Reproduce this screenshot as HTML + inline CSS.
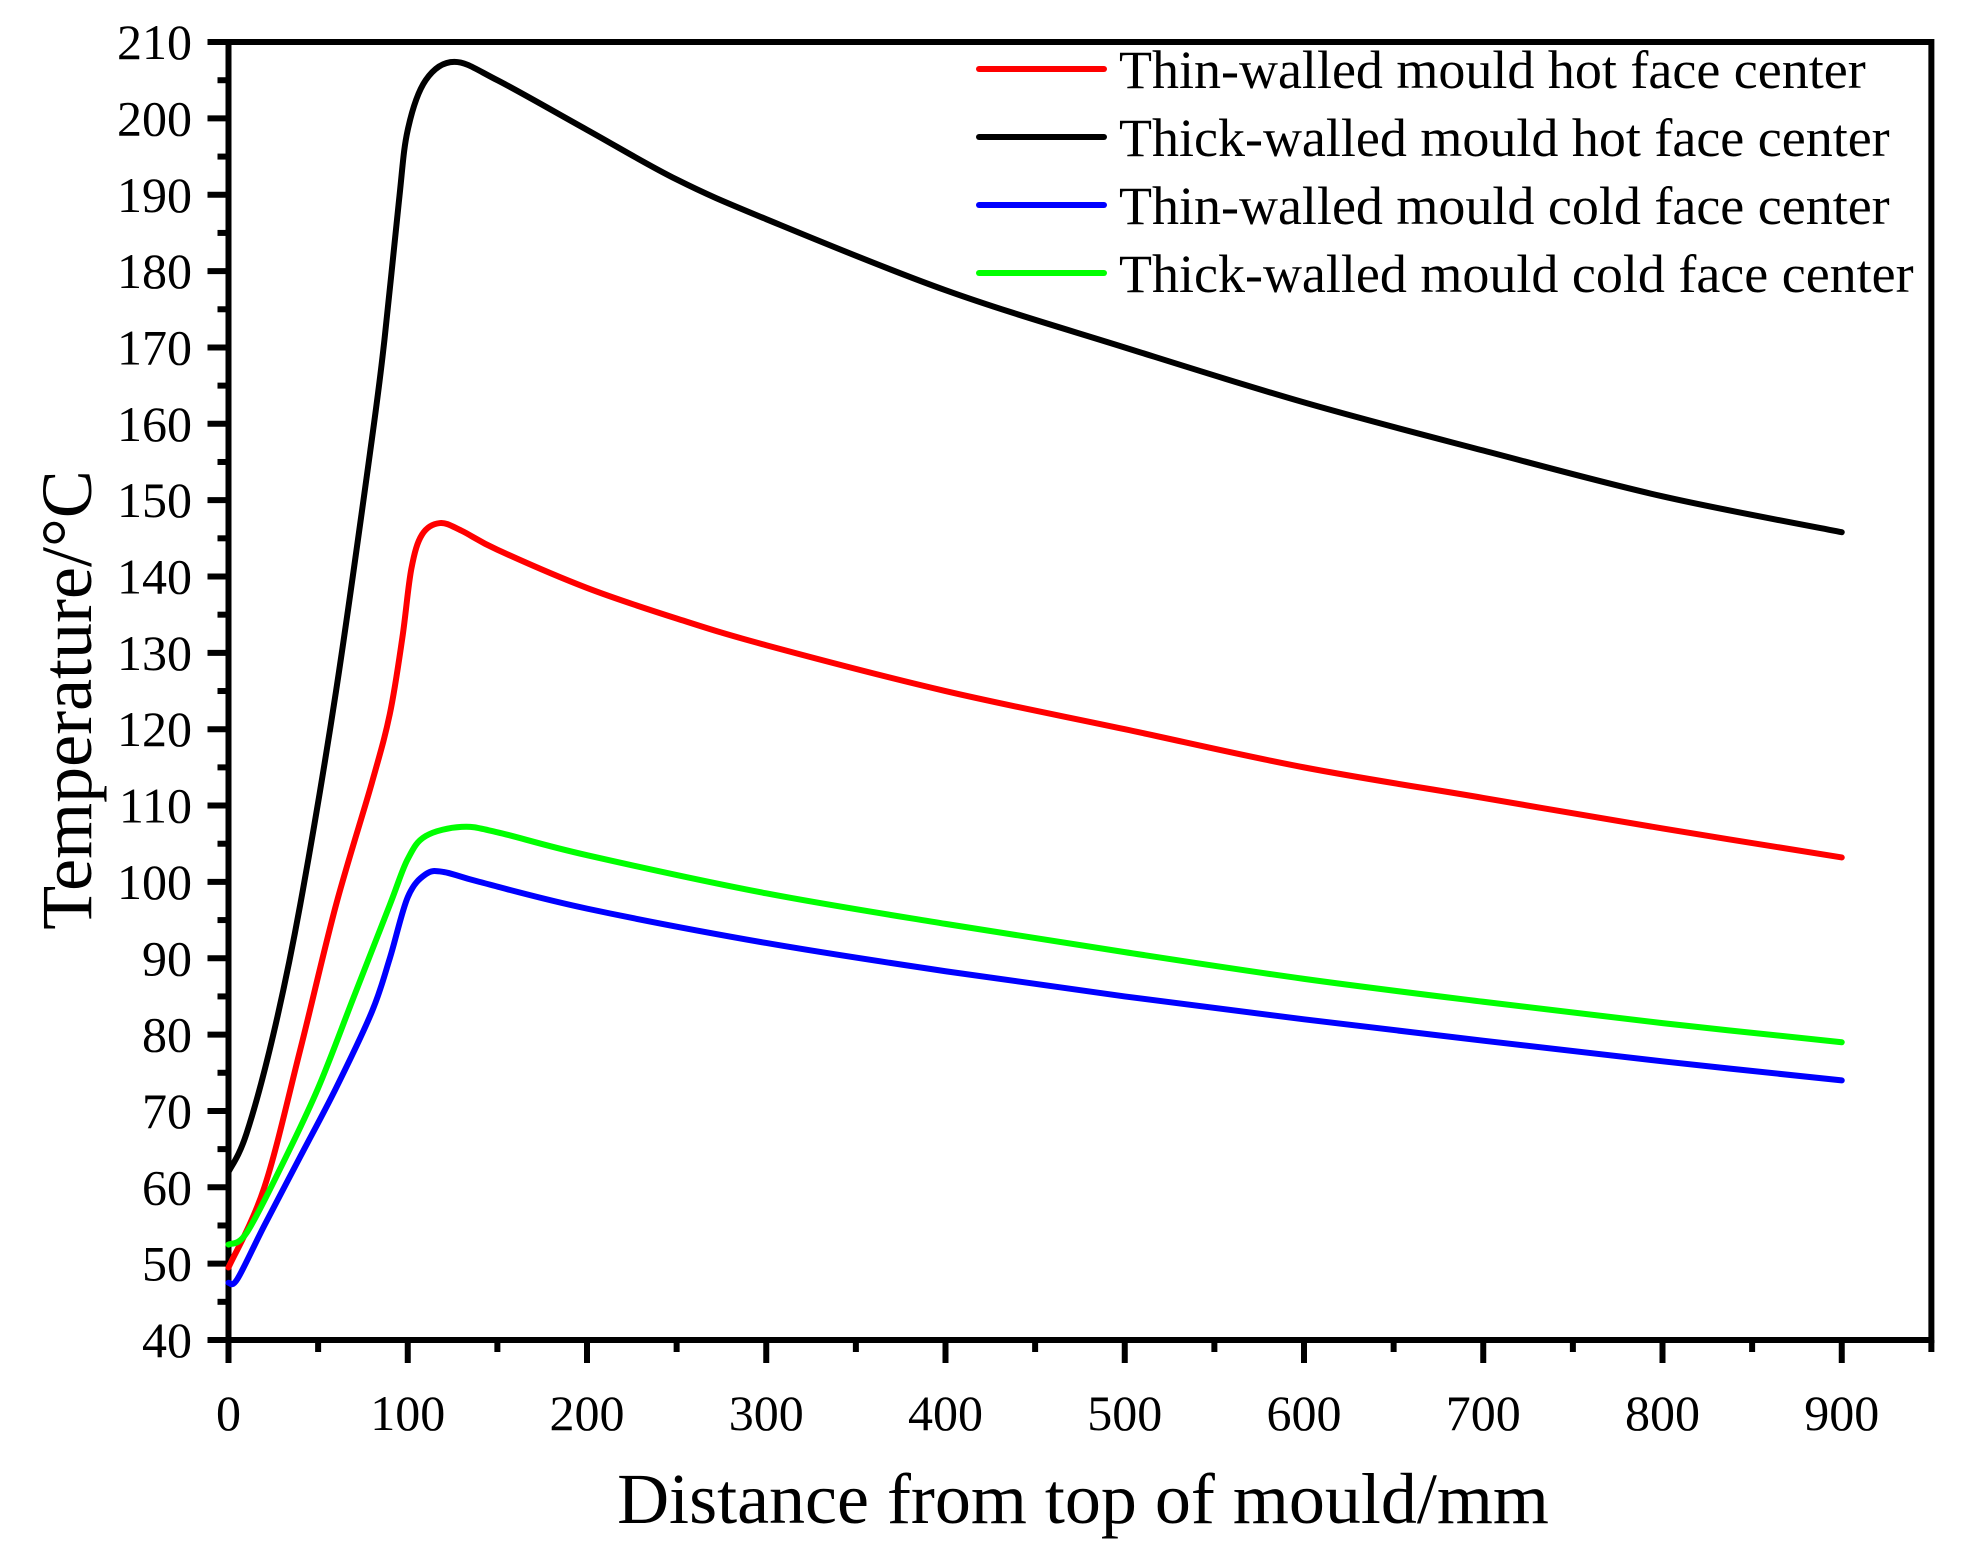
<!DOCTYPE html>
<html><head><meta charset="utf-8"><style>
html,body{margin:0;padding:0;background:#fff;}
svg{display:block;}
text{font-family:"Liberation Serif","Times New Roman",serif;fill:#000;}
</style></head><body>
<svg id="chart" width="1964" height="1553" viewBox="0 0 1964 1553" xmlns="http://www.w3.org/2000/svg">
<g id="axes"></g>
<g id="series"></g>
<g id="legend"></g>
<text x="1083" y="1523" font-size="72" text-anchor="middle">Distance from top of mould/mm</text>
<text transform="translate(91,700) rotate(-90)" font-size="72" text-anchor="middle">Temperature/°C</text>
</svg>
<script>
const xTicks=[0,100,200,300,400,500,600,700,800,900];
const yTicks=[40,50,60,70,80,90,100,110,120,130,140,150,160,170,180,190,200,210];
const seriesNames=["Thin-walled mould hot face center","Thick-walled mould hot face center","Thin-walled mould cold face center","Thick-walled mould cold face center"];
const seriesColors=["#ff0000","#000000","#0000ff","#00ff00"];
const redX=[0,20,40,60,80,90,97,102,108,118,130,150,200,250,300,400,500,600,700,800,900];
const redY=[49.5,60,78,97,113,122,132,141,145.5,147,146,143.5,138.5,134.5,131,125,120,115,111,107,103.2];
const blackX=[0,10,25,40,60,80,87,95,100,110,126,150,200,250,300,400,500,600,700,800,900];
const blackY=[62,67,80,97,125,158,171,189,198.5,205,207.4,205,198.5,192,186.8,177.5,170,162.8,156.5,150.5,145.8];
const blueX=[0,5,20,40,60,80,90,100,110,120,140,200,300,400,500,600,700,800,900];
const blueY=[47.5,48,55,64,73,83,90,98,101,101.3,100,96.5,92,88.3,85,82,79.2,76.5,74];
const greenX=[0,10,30,50,70,90,100,110,130,150,200,300,400,500,600,700,800,900];
const greenY=[52.5,54,63,73,85,97,103,106,107.2,106.5,103.5,98.5,94.5,90.8,87.3,84.3,81.5,79];

const NS="http://www.w3.org/2000/svg";
const X0=228.5,XS=1.7925,Y0=1340,YS=7.635;
function sx(v){return X0+v*XS;}
function sy(v){return Y0-(v-40)*YS;}
function mk(tag,attrs,parent){const e=document.createElementNS(NS,tag);for(const k in attrs)e.setAttribute(k,attrs[k]);parent.appendChild(e);return e;}
const axesG=document.getElementById('axes');
const topY=sy(210), rightX=sx(950);
let el=mk('path',{d:`M${X0} ${Y0}V${topY}H${rightX}V${Y0}H${X0}`,fill:'none',stroke:'#000','stroke-width':6},axesG);


for(let v=40;v<=210;v+=5){
  const major=(v%10===0);
  el=mk('line',{x1:X0-(major?21:11),x2:X0,y1:sy(v),y2:sy(v),stroke:'#000','stroke-width':6},axesG);
  
  
}
yTicks.forEach(v=>{
  el=mk('text',{x:192,y:sy(v)+17,'font-size':50,'text-anchor':'end'},axesG);
  el.textContent=v;
  
  
});
for(let v=0;v<=950;v+=50){
  const major=(v%100===0);
  el=mk('line',{x1:sx(v),x2:sx(v),y1:Y0,y2:Y0+(major?23:12),stroke:'#000','stroke-width':6},axesG);
  
  
}
xTicks.forEach(v=>{
  el=mk('text',{x:sx(v),y:1430,'font-size':50,'text-anchor':'middle'},axesG);
  el.textContent=v;
  
  
});
function pathFrom(xs,ys){
  const p=xs.map((x,i)=>[sx(x),sy(ys[i])]);
  let d=`M${p[0][0]} ${p[0][1]}`;
  for(let i=0;i<p.length-1;i++){
    const p0=p[i-1]||p[i],p1=p[i],p2=p[i+1],p3=p[i+2]||p2;
    const c1=[p1[0]+(p2[0]-p0[0])/6,p1[1]+(p2[1]-p0[1])/6];
    const c2=[p2[0]-(p3[0]-p1[0])/6,p2[1]-(p3[1]-p1[1])/6];
    d+=` C${c1[0]} ${c1[1]} ${c2[0]} ${c2[1]} ${p2[0]} ${p2[1]}`;
  }
  return d;
}
const ser=document.getElementById('series');
const seriesData=[[redX,redY,'red-thin-hot-line'],[blackX,blackY,'black-thick-hot-line'],[blueX,blueY,'blue-thin-cold-line'],[greenX,greenY,'green-thick-cold-line']];
seriesData.forEach((s,i)=>{
  el=mk('path',{d:pathFrom(s[0],s[1]),fill:'none',stroke:seriesColors[i],'stroke-width':6,'stroke-linejoin':'round','stroke-linecap':'round'},ser);
  
  
});
const leg=document.getElementById('legend');
const rowsY=[69,137,205,273];
seriesNames.forEach((n,i)=>{
  el=mk('line',{x1:979,x2:1104,y1:rowsY[i],y2:rowsY[i],stroke:seriesColors[i],'stroke-width':6,'stroke-linecap':'round'},leg);
  
  
  el=mk('text',{x:1119,y:rowsY[i]+19,'font-size':54},leg);
  el.textContent=n;
  
  
});
</script>
</body></html>
